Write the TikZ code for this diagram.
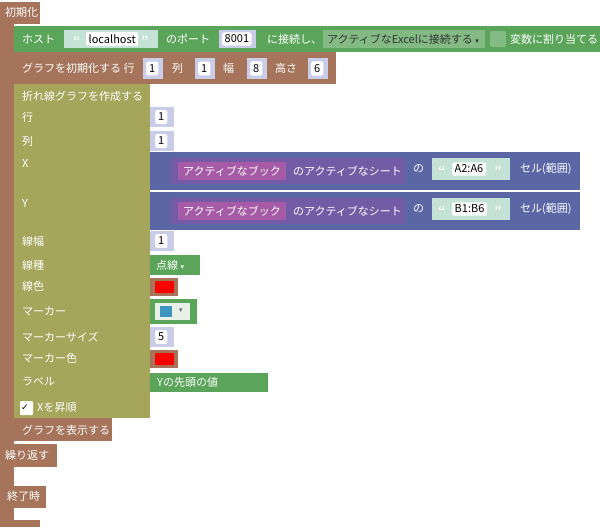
\documentclass[tikz,border=0pt]{standalone}
\usepackage{fontspec}
\setmainfont{Noto Sans CJK JP}
\newfontfamily\symfont{DejaVu Sans}
\usetikzlibrary{positioning}
\definecolor{ctrlbrown}{HTML}{A5745B}
\definecolor{hostgreen}{HTML}{5BA55B}
\definecolor{chartolive}{HTML}{A5A55B}
\definecolor{cellblue}{HTML}{5B67A5}
\definecolor{sheetpurple}{HTML}{745BA5}
\definecolor{bookpink}{HTML}{A55BA5}
\definecolor{strteal}{HTML}{C4E2D6}
\definecolor{numblue}{HTML}{C9CDE8}
\newcommand{\dropmark}{{\symfont\fontsize{7}{8}\selectfont▾}}
\tikzset{
  lbl/.style={anchor=west,text=white,inner sep=0pt,font=\fontsize{11}{13}\selectfont},
  dark/.style={anchor=west,text=black,inner sep=0pt,font=\fontsize{11}{13}\selectfont},
  quot/.style={anchor=west,text=white,inner sep=0pt,font=\fontsize{16}{16}\selectfont},
  field/.style={fill=white,rounded corners=2pt}
}
\begin{document}
\begin{tikzpicture}[x=1pt,y=-1pt]
    \useasboundingbox (0,0) rectangle (600,530);
    % outer event block
    \fill[ctrlbrown] (0,2) rectangle (40,24);
    \fill[ctrlbrown] (0,22) rectangle (14,446);
    \fill[ctrlbrown] (0,444) rectangle (57,467);
    \fill[ctrlbrown] (0,467) rectangle (14,486);
    \fill[ctrlbrown] (0,486) rectangle (46,508);
    \fill[ctrlbrown] (0,508) rectangle (14,527);
    \fill[ctrlbrown] (0,520) rectangle (40,527);
    \node[lbl] (init) at (5,12) {初期化};
    \node[lbl] (loop) at (5,455) {繰り返す};
    \node[lbl] (fin) at (7,496) {終了時};

    % connect block
    \fill[hostgreen] (14,26) rectangle (600,52);
    \node[lbl] (host) at (22,39) {ホスト};
    \fill[strteal] (64,30) rectangle (158,48);
    \node[quot] at (73,42) {“};
    \node[field,dark,inner sep=2.5pt] (hostname) at (86,39) {localhost};
    \node[quot] at (141,42) {”};
    \node[lbl] (port) at (166,39) {のポート};
    \fill[numblue] (219,30) rectangle (256,48);
    \node[field,dark,inner sep=2.5pt] (portnum) at (222,39) {8001};
    \node[lbl] (connect) at (267,39) {に接続し、};
    \fill[hostgreen!75!white] (323,30) rectangle (485,48);
    \node[dark,text=black!80] (mode) at (327,39) {アクティブなExcelに接続する \dropmark};
    \fill[hostgreen!75!white,rounded corners=2pt] (490,31) rectangle (506,47);
    \node[lbl] (assign) at (510,39) {変数に割り当てる};

    % graph init block
    \fill[ctrlbrown] (14,52) rectangle (336,84);
    \node[lbl] (ginit) at (22,68) {グラフを初期化する 行};
    \foreach \bx/\bv in {143/1,195/1,247/8,308/6}
        \fill[numblue] (\bx,58) rectangle (\bx+20,79)
            node[field,dark,inner sep=3pt] at (\bx+3,68.5) {\bv};
    \node[lbl] (gcol) at (172,68) {列};
    \node[lbl] (gwid) at (223,68) {幅};
    \node[lbl] (ghei) at (275,68) {高さ};

    % line chart block
    \fill[chartolive] (14,84) rectangle (150,418);
    \node[lbl] (lchart) at (22,96) {折れ線グラフを作成する};
    \foreach \ly/\lt in {117/行,141/列,163/X,203/Y,241/線幅,265/線種,286/線色,311/マーカー,337/マーカーサイズ,358/マーカー色,382/ラベル}
        \node[lbl] at (22,\ly) {\lt};
    \fill[white,rounded corners=1pt] (20,401) rectangle (33,415);
    \node[dark] at (21,408) {\symfont\small✓};
    \node[lbl] (xsort) at (37,408) {Xを昇順};
    \foreach \ny/\nv in {117/1,141/1,241/1,337/5}
        \fill[numblue] (150,\ny-10) rectangle (174,\ny+10)
            node[field,dark,inner sep=3pt] at (155,\ny) {\nv};

    % X and Y ranges
    \foreach \ry/\rv in {152/A2:A6,192/B1:B6} {
        \fill[cellblue] (150,\ry) rectangle (580,\ry+38);
        \fill[sheetpurple] (170,\ry+6) rectangle (405,\ry+32);
        \fill[bookpink] (178,\ry+10) rectangle (286,\ry+28);
        \node[lbl] at (183,\ry+19) {アクティブなブック};
        \node[lbl] at (293,\ry+19) {のアクティブなシート};
        \node[lbl] at (413,\ry+17) {の};
        \fill[strteal] (432,\ry+6) rectangle (510,\ry+28);
        \node[quot] at (438,\ry+20) {“};
        \node[field,dark,inner sep=2.5pt] at (452,\ry+17) {\rv};
        \node[quot] at (494,\ry+20) {”};
        \node[lbl] at (520,\ry+17) {セル(範囲)};
    }

    % line style, colours, marker
    \fill[hostgreen] (150,255) rectangle (200,275);
    \node[lbl] (ltype) at (156,265) {点線 \dropmark};
    \fill[ctrlbrown] (150,278) rectangle (178,296);
    \fill[red,rounded corners=1pt] (155,281) rectangle (174,293);
    \fill[hostgreen] (150,299) rectangle (197,324);
    \fill[white!85!hostgreen] (155,303) rectangle (190,320);
    \fill[cellblue!70!cyan] (160,306) rectangle (172,317);
    \node[dark,text=black!60] at (179,311) {\dropmark};
    \fill[ctrlbrown] (150,350) rectangle (178,368);
    \fill[red,rounded corners=1pt] (155,353) rectangle (174,365);
    \fill[hostgreen] (150,373) rectangle (268,392);
    \node[lbl] (lname) at (157,382.5) {Yの先頭の値};

    % show graph block
    \fill[ctrlbrown] (14,418) rectangle (112,441);
    \node[lbl] (gshow) at (22,430) {グラフを表示する};
\end{tikzpicture}
\end{document}
